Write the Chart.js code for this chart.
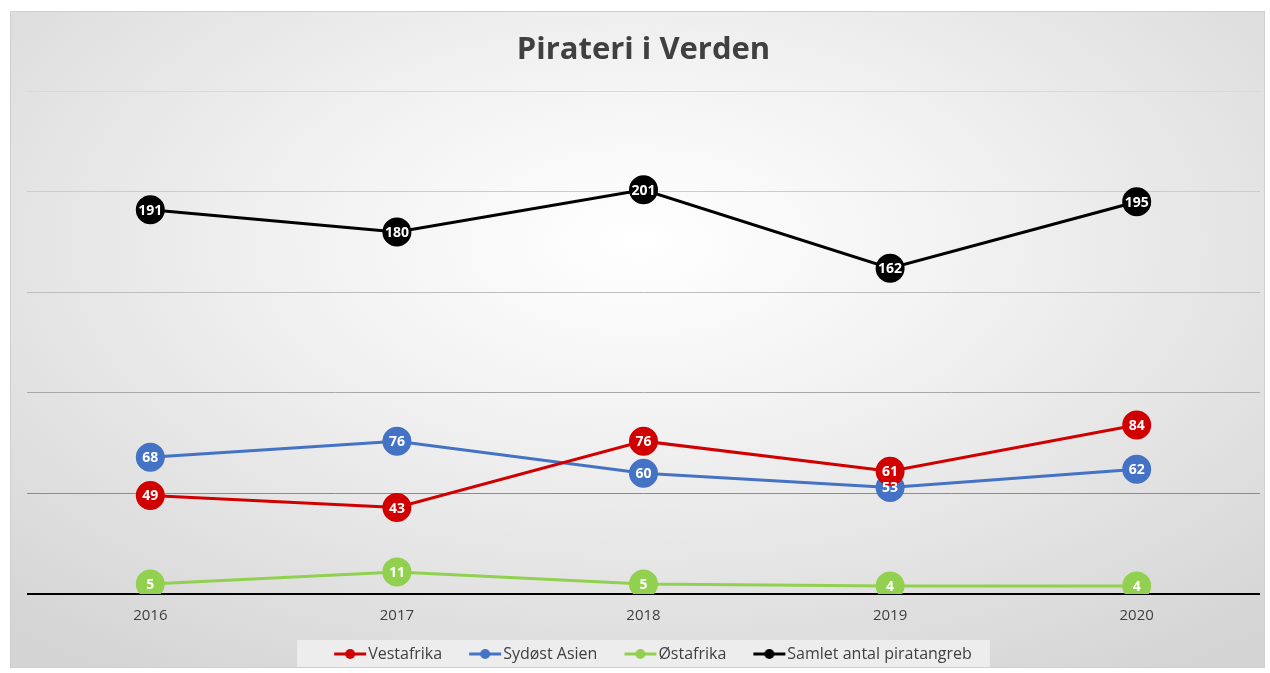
<!DOCTYPE html>
<html>
<head>
<meta charset="utf-8">
<script src="https://cdn.jsdelivr.net/npm/chart.js"></script>
<style>
  html, body { margin: 0; padding: 0; background: #fff; overflow: hidden; }
  #frame {
    position: absolute; left: 10px; top: 11px; width: 1253px; height: 655px;
    border: 1px solid #cfcfcf; overflow: hidden;
    background: radial-gradient(ellipse 75% 80% at 50% 35%, #ffffff 0%, #f2f2f2 35%, #d4d4d4 100%);
  }
  #frame canvas { display: block; }
</style>
</head>
<body>
<div id="frame"><canvas id="pirateri" width="1265" height="660"></canvas></div>
<script>
// data
const years = ['2016', '2017', '2018', '2019', '2020'];
const vestafrika = [49, 43, 76, 61, 84];
const sydostAsien = [68, 76, 60, 53, 62];
const ostafrika = [5, 11, 5, 4, 4];
const samlet = [191, 180, 201, 162, 195];
const yTicks = [0, 50, 100, 150, 200, 250];

const textColor = '#404040';
const fontFam = "'Open Sans', 'Noto Sans', sans-serif";

// line-with-dot symbol for the legend (drawn at the right end of the image
// so the label text follows it closely)
function legendMark(color) {
  const c = document.createElement('canvas');
  c.width = 59; c.height = 12;
  const g = c.getContext('2d');
  g.strokeStyle = color; g.lineWidth = 3;
  g.beginPath(); g.moveTo(26, 6); g.lineTo(58, 6); g.stroke();
  g.fillStyle = color;
  g.beginPath(); g.arc(42, 6, 5, 0, Math.PI * 2); g.fill();
  return c;
}

function series(label, data, color) {
  return {
    label: label,
    data: data,
    borderColor: color,
    backgroundColor: color,
    pointBackgroundColor: color,
    pointBorderColor: color,
    borderWidth: 3,
    pointRadius: 13,
    pointHoverRadius: 13,
    pointStyle: 'circle',
    legendMark: legendMark(color),
    tension: 0,
  };
}

// values written in white inside the markers
const pointLabels = {
  id: 'pointLabels',
  afterDatasetsDraw(chart) {
    const ctx = chart.ctx;
    ctx.save();
    ctx.fillStyle = '#ffffff';
    ctx.font = 'bold 14px ' + fontFam;
    ctx.textAlign = 'center';
    ctx.textBaseline = 'middle';
    chart.data.datasets.forEach((ds, i) => {
      chart.getDatasetMeta(i).data.forEach((pt, j) => {
        ctx.fillText(String(ds.data[j]), pt.x, pt.y + 1);
      });
    });
    ctx.restore();
  }
};

// light box behind the legend
const legendBox = {
  id: 'legendBox',
  beforeDraw(chart) {
    const boxes = chart.legend && chart.legend.legendHitBoxes;
    if (!boxes || !boxes.length) return;
    let l = Infinity, r = -Infinity, t = Infinity, b = -Infinity;
    boxes.forEach(h => {
      l = Math.min(l, h.left); r = Math.max(r, h.left + h.width);
      t = Math.min(t, h.top); b = Math.max(b, h.top + h.height);
    });
    const ctx = chart.ctx;
    ctx.save();
    ctx.fillStyle = 'rgba(240,240,240,0.85)';
    ctx.fillRect(l - 18, t - 6, r - l + 36, b - t + 20);
    ctx.restore();
  }
};

const gridColors = { 0: '#000000', 50: '#8c8c8c', 100: '#a8a8a8', 150: '#bdbdbd', 200: '#cccccc', 250: '#d9d9d9' };

new Chart(document.getElementById('pirateri').getContext('2d'), {
  type: 'line',
  data: {
    labels: years,
    datasets: [
      series('Vestafrika', vestafrika, '#d00000'),
      series('Sydøst Asien', sydostAsien, '#4472c4'),
      series('Østafrika', ostafrika, '#92d050'),
      series('Samlet antal piratangreb', samlet, '#000000'),
    ]
  },
  options: {
    responsive: false,
    animation: false,
    layout: { padding: { left: 16, right: 16, top: 0, bottom: 0 } },
    scales: {
      x: {
        offset: true,
        grid: { display: false, drawTicks: false },
        border: { display: false },
        ticks: { color: textColor, font: { size: 15, family: fontFam }, padding: 13 },
      },
      y: {
        min: 0,
        max: 250,
        afterBuildTicks: (axis) => { axis.ticks = yTicks.map(v => ({ value: v })); },
        ticks: { display: false },
        border: { display: false },
        grid: {
          drawTicks: false,
          color: (c) => gridColors[c.tick.value] || '#cccccc',
          lineWidth: (c) => c.tick.value === 0 ? 2 : 1,
        },
      },
    },
    plugins: {
      title: {
        display: true,
        text: 'Pirateri i Verden',
        color: textColor,
        font: { size: 31, weight: 'bold', family: fontFam },
        padding: { top: 20, bottom: 22 },
      },
      legend: {
        position: 'bottom',
        labels: {
          color: textColor,
          font: { size: 16, family: fontFam },
          usePointStyle: true,
          pointStyleWidth: 45,
          padding: 8,
          generateLabels: (chart) => chart.data.datasets.map((ds, i) => ({
            text: ds.label,
            pointStyle: ds.legendMark,
            fillStyle: ds.borderColor,
            strokeStyle: ds.borderColor,
            lineWidth: 0,
            fontColor: textColor,
            datasetIndex: i,
            hidden: false,
          })),
        },
      },
      tooltip: { enabled: false },
    },
  },
  plugins: [legendBox, pointLabels],
});
</script>
</body>
</html>
